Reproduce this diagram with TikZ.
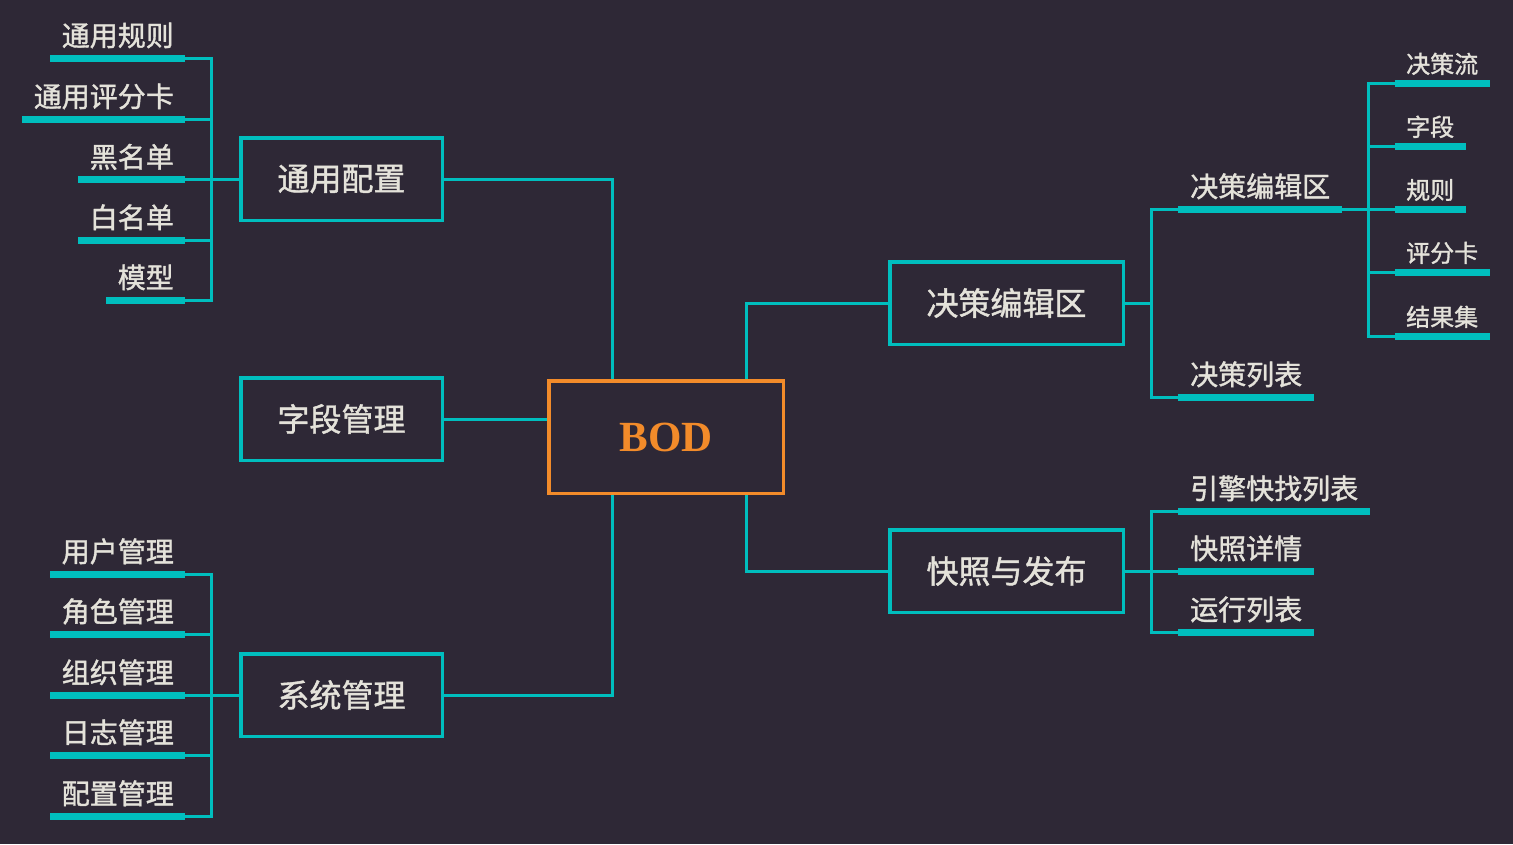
\documentclass[tikz,border=0pt]{standalone}
\usepackage{fontspec}
\newfontfamily\cjk[FakeBold=1.3]{Noto Sans CJK SC}
\newfontfamily\serifb{Liberation Serif}
\usetikzlibrary{calc}
\definecolor{bg}{HTML}{2E2836}
\definecolor{cy}{HTML}{00BEBE}
\definecolor{tx}{HTML}{E4E2DA}
\definecolor{org}{HTML}{F28B2A}
\tikzset{
 conn/.style={draw=cy, line width=3pt},
 bar/.style={draw=cy, line width=7pt},
 box/.style={draw=cy, line width=3.5pt, minimum width=201.5pt, minimum height=82.5pt, inner sep=0pt, font=\cjk\fontsize{32}{34}\selectfont, text=tx},
 wbox/.style={box, minimum width=233.5pt},
 lt/.style={font=\cjk\fontsize{28}{30}\selectfont, text=tx, inner sep=0pt},
 st/.style={font=\cjk\fontsize{24}{26}\selectfont, text=tx, inner sep=0pt},
}
\begin{document}
\begin{tikzpicture}[x=1pt,y=-1pt]
\fill[bg] (0,0) rectangle (1513,844);
\useasboundingbox (0,0) rectangle (1513,844);

% centre
\node[draw=org, line width=3.5pt, minimum width=234.5pt, minimum height=112.5pt, inner sep=0pt, text=org, font=\serifb\bfseries\fontsize{43}{45}\selectfont] (bod) at (666,437) {BOD};
\coordinate (bodtl) at ($(bod.north)+(-54,0)$);
\coordinate (bodtr) at ($(bod.north)+(80,0)$);
\coordinate (bodbl) at ($(bod.south)+(-54,0)$);
\coordinate (bodbr) at ($(bod.south)+(80,0)$);

% left boxes
\node[box] (cfg) at (341.5,179) {通用配置};
\node[box] (fld) at (341.5,419) {字段管理};
\node[box] (sys) at (341.5,695) {系统管理};
\draw[conn] (cfg.east) -| (bodtl);
\draw[conn] (fld.east) -- (fld.east -| bod.west);
\draw[conn] (sys.east) -| (bodbl);

% right boxes
\node[wbox] (dec) at (1006.5,303) {决策编辑区};
\node[wbox] (snap) at (1006.5,571) {快照与发布};
\draw[conn] (bodtr) |- (dec.west);
\draw[conn] (bodbr) |- (snap.west);

% group: 通用配置
\coordinate (j1) at ($(cfg.west)+(-28,0)$);
\draw[conn] (cfg.west) -- (j1);
\foreach \t/\xs/\y [count=\i] in {通用规则/50/58, 通用评分卡/22/119, 黑名单/78/179.5, 白名单/78/240, 模型/106/300}{
 \coordinate (as\i) at (\xs,\y);
 \coordinate (ae\i) at (185,\y);
 \draw[bar] (as\i) -- (ae\i);
 \node[lt, anchor=base east] (at\i) at ($(ae\i)+(-11,-12)$) {\t};
 \draw[conn] (ae\i) -| (j1);
}

% group: 系统管理
\coordinate (j3) at ($(sys.west)+(-28,0)$);
\draw[conn] (sys.west) -- (j3);
\foreach \t/\xs/\y [count=\i] in {用户管理/50/574, 角色管理/50/634, 组织管理/50/695, 日志管理/50/755, 配置管理/50/816}{
 \coordinate (cs\i) at (\xs,\y);
 \coordinate (ce\i) at (185,\y);
 \draw[bar] (cs\i) -- (ce\i);
 \node[lt, anchor=base east] (ct\i) at ($(ce\i)+(-11,-12)$) {\t};
 \draw[conn] (ce\i) -| (j3);
}

% group: 决策编辑区
\coordinate (jA) at ($(dec.east)+(26,0)$);
\draw[conn] (dec.east) -- (jA);
\foreach \t/\xe/\y [count=\i] in {决策编辑区/1342/209, 决策列表/1314/397}{
 \coordinate (ms\i) at (1178,\y);
 \coordinate (me\i) at (\xe,\y);
 \draw[bar] (ms\i) -- (me\i);
 \node[lt, anchor=base west] (mt\i) at ($(ms\i)+(12,-12)$) {\t};
 \draw[conn] (ms\i) -| (jA);
}
\coordinate (jR) at ($(me1)+(26,0)$);
\draw[conn] (me1) -- (jR);
\foreach \t/\xe/\y [count=\i] in {决策流/1490/83, 字段/1466/146, 规则/1466/209, 评分卡/1490/272, 结果集/1490/336}{
 \coordinate (rs\i) at (1395,\y);
 \coordinate (re\i) at (\xe,\y);
 \draw[bar] (rs\i) -- (re\i);
 \node[st, anchor=base west] (rt\i) at ($(rs\i)+(11,-10)$) {\t};
 \draw[conn] (rs\i) -| (jR);
}

% group: 快照与发布
\coordinate (jB) at ($(snap.east)+(26,0)$);
\draw[conn] (snap.east) -- (jB);
\foreach \t/\xe/\y [count=\i] in {引擎快找列表/1370/511, 快照详情/1314/571, 运行列表/1314/632}{
 \coordinate (ns\i) at (1178,\y);
 \coordinate (ne\i) at (\xe,\y);
 \draw[bar] (ns\i) -- (ne\i);
 \node[lt, anchor=base west] (nt\i) at ($(ns\i)+(12,-12)$) {\t};
 \draw[conn] (ns\i) -| (jB);
}
\end{tikzpicture}
\end{document}
